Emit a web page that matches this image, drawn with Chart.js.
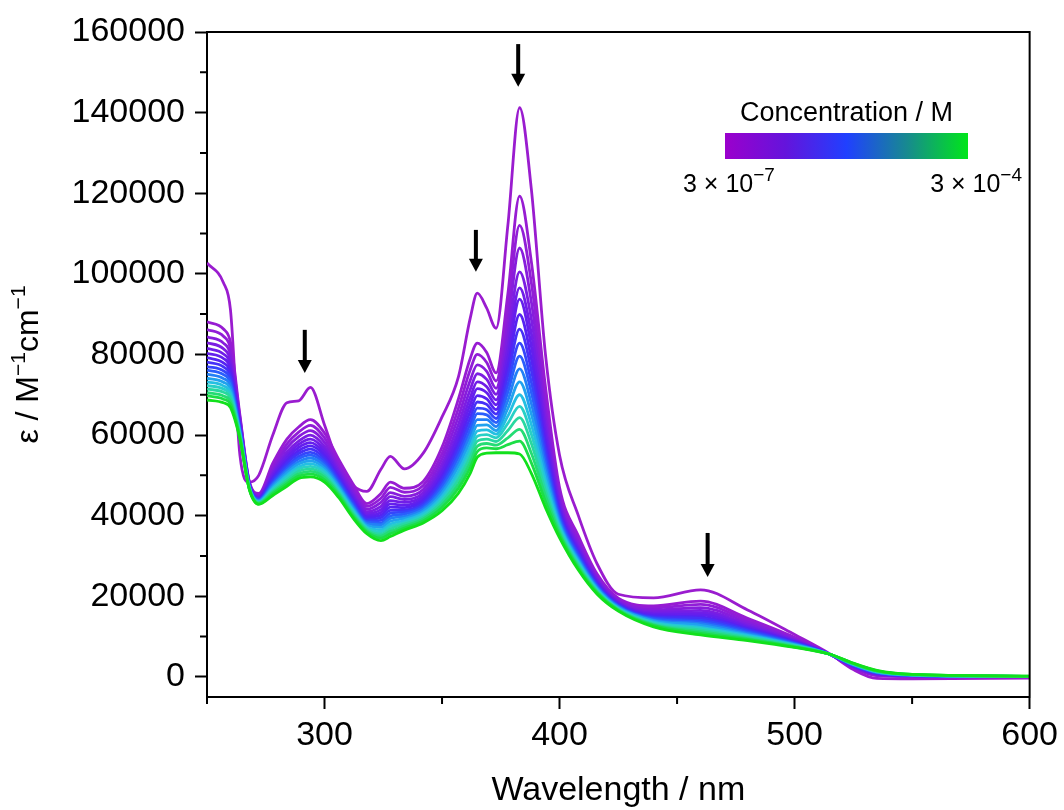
<!DOCTYPE html>
<html>
<head>
<meta charset="utf-8">
<script src="https://cdn.jsdelivr.net/npm/chart.js@4.4.1/dist/chart.umd.min.js"></script>
<style>
  html, body { margin: 0; padding: 0; background: #fff; }
  canvas { display: block; }
</style>
</head>
<body>
<canvas id="myChart" width="1064" height="810"></canvas>
<script>
// wavelength grid (nm)
const wavelengths = [250, 257, 260, 264, 268, 272, 278, 284, 289, 294, 300, 306, 312, 318, 324, 328, 334, 342, 350, 357,
  362, 365, 369, 373, 378, 383, 388, 394, 400, 408, 416, 425, 440, 460, 480, 500, 515, 525, 535, 550, 600];

// epsilon in 10^3 M^-1 cm^-1, spec01 = 3e-7 M ... spec19 = 3e-4 M
const spec01 = [102.7, 97.8, 91.0, 55.0, 48.3, 50.0, 60.0, 68.0, 68.5, 71.8, 62.5, 52.8, 47.6, 46.0, 51.5, 54.7, 51.6, 55.5, 64.5, 74.5, 89.0, 95.2, 91.5, 86.5, 112.0, 141.2, 121.0, 80.0, 55.0, 40.0, 28.0, 20.5, 19.6, 21.6, 16.6, 10.5, 5.7, 1.8, -0.4, -0.5, -0.3];
const spec02 = [88.1, 86.3, 83.0, 65.0, 48.5, 45.5, 53.0, 59.0, 62.0, 63.8, 60.5, 54.0, 48.0, 43.0, 45.5, 48.3, 46.8, 48.5, 57.0, 69.0, 79.0, 82.8, 80.5, 75.4, 95.0, 119.3, 103.0, 72.0, 47.0, 35.0, 25.5, 19.5, 17.6, 18.8, 14.5, 9.8, 5.6, 2.2, 0.3, 0.1, 0.1];
const spec03 = [86.2, 84.5, 81.4, 64.4, 48.3, 45.2, 52.2, 57.8, 60.7, 62.4, 59.3, 53.1, 47.2, 42.3, 44.3, 47.0, 45.8, 47.5, 55.4, 66.7, 76.2, 80.0, 78.0, 73.4, 91.1, 112.0, 97.8, 69.0, 45.8, 34.2, 25.0, 19.2, 17.1, 18.0, 14.0, 9.6, 5.6, 2.3, 0.4, 0.2, 0.1];
const spec04 = [84.4, 82.8, 79.9, 63.9, 48.1, 45.0, 51.5, 56.8, 59.6, 61.1, 58.2, 52.2, 46.4, 41.6, 43.3, 45.7, 44.8, 46.5, 54.0, 64.6, 73.6, 77.4, 75.8, 71.6, 87.5, 106.4, 93.0, 66.3, 44.6, 33.4, 24.6, 18.9, 16.6, 17.2, 13.5, 9.3, 5.6, 2.4, 0.6, 0.2, 0.1];
const spec05 = [82.9, 81.4, 78.6, 63.4, 48.0, 44.8, 50.8, 55.8, 58.5, 60.0, 57.2, 51.4, 45.7, 41.0, 42.3, 44.7, 44.0, 45.7, 52.7, 62.7, 71.3, 75.2, 73.8, 70.1, 84.4, 100.5, 88.8, 63.9, 43.6, 32.7, 24.2, 18.6, 16.2, 16.5, 13.0, 9.1, 5.6, 2.5, 0.7, 0.2, 0.1];
const spec06 = [81.5, 80.1, 77.5, 63.0, 47.8, 44.6, 50.3, 55.0, 57.7, 59.0, 56.4, 50.8, 45.1, 40.5, 41.5, 43.7, 43.3, 45.0, 51.6, 61.0, 69.3, 73.2, 72.0, 68.7, 81.6, 96.5, 85.2, 61.8, 42.8, 32.1, 23.8, 18.4, 15.8, 15.9, 12.6, 9.0, 5.6, 2.6, 0.7, 0.3, 0.1];
const spec07 = [80.3, 79.0, 76.5, 62.6, 47.7, 44.4, 49.8, 54.3, 56.9, 58.1, 55.6, 50.2, 44.6, 40.0, 40.8, 42.9, 42.6, 44.4, 50.7, 59.6, 67.6, 71.5, 70.5, 67.5, 79.2, 93.7, 82.0, 60.0, 42.0, 31.6, 23.5, 18.2, 15.5, 15.4, 12.3, 8.8, 5.6, 2.7, 0.8, 0.3, 0.1];
const spec08 = [79.2, 77.9, 75.6, 62.2, 47.6, 44.3, 49.3, 53.6, 56.1, 57.3, 54.9, 49.6, 44.1, 39.6, 40.1, 42.1, 42.0, 43.8, 49.7, 58.2, 65.9, 69.8, 69.0, 66.3, 76.9, 89.9, 78.9, 58.2, 41.3, 31.1, 23.2, 18.0, 15.2, 14.9, 12.0, 8.7, 5.6, 2.8, 0.9, 0.3, 0.1];
const spec09 = [78.1, 76.9, 74.7, 61.9, 47.5, 44.1, 48.9, 53.0, 55.4, 56.5, 54.2, 49.1, 43.6, 39.1, 39.5, 41.3, 41.4, 43.2, 48.9, 57.0, 64.3, 68.2, 67.6, 65.2, 74.7, 86.3, 76.0, 56.6, 40.6, 30.6, 22.9, 17.9, 14.9, 14.5, 11.7, 8.5, 5.6, 2.8, 1.0, 0.4, 0.1];
const spec10 = [77.0, 75.9, 73.8, 61.6, 47.4, 44.0, 48.4, 52.3, 54.7, 55.7, 53.5, 48.6, 43.2, 38.7, 38.8, 40.6, 40.9, 42.6, 48.0, 55.7, 62.8, 66.7, 66.3, 64.1, 72.5, 82.8, 73.1, 54.9, 39.9, 30.2, 22.7, 17.7, 14.6, 14.0, 11.4, 8.4, 5.6, 2.9, 1.0, 0.4, 0.1];
const spec11 = [76.1, 75.0, 73.0, 61.3, 47.3, 43.8, 48.0, 51.7, 54.1, 55.0, 52.9, 48.1, 42.7, 38.4, 38.2, 39.9, 40.4, 42.1, 47.2, 54.5, 61.3, 65.3, 65.0, 63.1, 70.6, 79.6, 70.5, 53.4, 39.3, 29.7, 22.4, 17.5, 14.4, 13.6, 11.1, 8.3, 5.6, 2.9, 1.1, 0.4, 0.1];
const spec12 = [75.1, 74.0, 72.2, 61.0, 47.2, 43.7, 47.6, 51.2, 53.4, 54.3, 52.3, 47.6, 42.3, 38.0, 37.7, 39.3, 39.8, 41.6, 46.4, 53.3, 59.9, 63.8, 63.8, 62.1, 68.6, 76.4, 67.8, 51.9, 38.6, 29.3, 22.2, 17.4, 14.1, 13.2, 10.8, 8.1, 5.6, 3.0, 1.2, 0.4, 0.1];
const spec13 = [74.1, 73.1, 71.3, 60.7, 47.1, 43.6, 47.2, 50.6, 52.8, 53.6, 51.7, 47.2, 41.9, 37.6, 37.1, 38.6, 39.3, 41.1, 45.6, 52.2, 58.5, 62.4, 62.5, 61.1, 66.6, 73.2, 65.2, 50.4, 38.0, 28.9, 21.9, 17.2, 13.9, 12.8, 10.5, 8.0, 5.6, 3.1, 1.2, 0.5, 0.1];
const spec14 = [73.2, 72.2, 70.5, 60.4, 47.0, 43.4, 46.8, 50.0, 52.1, 52.9, 51.1, 46.7, 41.5, 37.2, 36.5, 37.9, 38.8, 40.6, 44.8, 51.0, 57.1, 61.0, 61.3, 60.2, 64.7, 70.0, 62.6, 48.9, 37.4, 28.5, 21.7, 17.0, 13.6, 12.3, 10.3, 7.9, 5.6, 3.1, 1.3, 0.5, 0.1];
const spec15 = [72.3, 71.4, 69.8, 60.1, 46.9, 43.3, 46.5, 49.5, 51.6, 52.2, 50.6, 46.3, 41.1, 36.9, 36.0, 37.3, 38.3, 40.1, 44.1, 49.9, 55.8, 59.7, 60.1, 59.3, 62.9, 67.1, 60.2, 47.6, 36.8, 28.1, 21.4, 16.9, 13.4, 12.0, 10.0, 7.8, 5.6, 3.2, 1.4, 0.5, 0.1];
const spec16 = [71.4, 70.6, 69.1, 59.8, 46.8, 43.2, 46.1, 48.9, 51.0, 51.6, 50.0, 45.8, 40.7, 36.6, 35.4, 36.7, 37.9, 39.6, 43.4, 48.9, 54.5, 58.5, 59.0, 58.4, 61.1, 64.3, 57.9, 46.2, 36.3, 27.7, 21.2, 16.8, 13.1, 11.6, 9.8, 7.7, 5.6, 3.2, 1.4, 0.5, 0.1];
const spec17 = [70.5, 69.7, 68.3, 59.6, 46.7, 43.1, 45.8, 48.4, 50.4, 51.0, 49.5, 45.4, 40.3, 36.2, 34.9, 36.1, 37.4, 39.2, 42.7, 47.8, 53.2, 57.2, 57.9, 57.5, 59.3, 61.4, 55.5, 44.9, 35.7, 27.3, 21.0, 16.6, 12.9, 11.2, 9.5, 7.5, 5.6, 3.3, 1.5, 0.6, 0.1];
const spec18 = [69.7, 68.9, 67.6, 59.3, 46.6, 42.9, 45.4, 47.9, 49.8, 50.3, 48.9, 45.0, 39.9, 35.9, 34.4, 35.5, 36.9, 38.7, 42.0, 46.8, 51.9, 55.9, 56.8, 56.6, 57.6, 58.5, 53.1, 43.5, 35.1, 26.9, 20.8, 16.5, 12.7, 10.8, 9.3, 7.4, 5.6, 3.3, 1.5, 0.6, 0.2];
const spec19 = [68.7, 68.0, 66.8, 59.0, 46.5, 42.8, 45.0, 47.3, 49.2, 49.6, 48.3, 44.5, 39.5, 35.5, 33.8, 34.8, 36.4, 38.2, 41.2, 45.6, 50.5, 54.5, 55.5, 55.6, 55.6, 55.3, 50.5, 42.0, 34.5, 26.5, 20.5, 16.3, 12.4, 10.4, 9.0, 7.3, 5.6, 3.4, 1.6, 0.6, 0.2];

const spectra = [spec01, spec02, spec03, spec04, spec05, spec06, spec07, spec08, spec09, spec10,
  spec11, spec12, spec13, spec14, spec15, spec16, spec17, spec18, spec19];

const lineColors = ['#9a1ccf', '#971cd2', '#911dd7', '#871ddc', '#7c1ee2', '#701ee8', '#641fed', '#5622f2', '#4630f7', '#3545fb',
  '#2a5efc', '#2380f6', '#20a2ee', '#24bfe2', '#28d0c6', '#28d8a0', '#24dc74', '#1cde46', '#12e01c'];

// axis ticks
const xMajor = [300, 400, 500, 600];
const xMinor = [250, 350, 450, 550];
const yMajor = [0, 20000, 40000, 60000, 80000, 100000, 120000, 140000, 160000];
const yMinor = [10000, 30000, 50000, 70000, 90000, 110000, 130000, 150000];

// arrows: wavelength, start value, tip value
const arrowWl = [291.6, 364.4, 382.4, 463];
const arrowTop = [86100, 110900, 157000, 35700];
const arrowTip = [75400, 100500, 146400, 24800];

const FONT = "'Liberation Sans', Arial, sans-serif";

// draw text made of pieces (for superscripts)
function drawPieces(ctx, pieces, x, y, align) {
  let total = 0;
  pieces.forEach(p => { ctx.font = p.size + 'px ' + FONT; p.w = ctx.measureText(p.text).width; total += p.w; });
  let cx = align === 'center' ? x - total / 2 : (align === 'right' ? x - total : x);
  pieces.forEach(p => {
    ctx.font = p.size + 'px ' + FONT;
    ctx.fillText(p.text, cx, y + (p.dy || 0));
    cx += p.w;
  });
}

const decorations = {
  id: 'decorations',
  afterDatasetsDraw(chart) {
    const { ctx, chartArea: a, scales: { x, y } } = chart;
    ctx.save();
    ctx.strokeStyle = '#000';
    ctx.fillStyle = '#000';
    ctx.lineWidth = 2;
    // top + right frame
    ctx.beginPath();
    ctx.moveTo(a.left - 1, a.top);
    ctx.lineTo(a.right, a.top);
    ctx.lineTo(a.right, a.bottom + 1);
    ctx.stroke();
    // minor ticks
    ctx.beginPath();
    xMinor.forEach(v => { const px = x.getPixelForValue(v); ctx.moveTo(px, a.bottom); ctx.lineTo(px, a.bottom + 7); });
    yMinor.forEach(v => { const py = y.getPixelForValue(v); ctx.moveTo(a.left, py); ctx.lineTo(a.left - 7, py); });
    ctx.stroke();
    // arrows
    arrowWl.forEach((wl, i) => {
      const px = x.getPixelForValue(wl);
      const top = y.getPixelForValue(arrowTop[i]);
      const tip = y.getPixelForValue(arrowTip[i]);
      ctx.lineWidth = 4;
      ctx.beginPath();
      ctx.moveTo(px, top);
      ctx.lineTo(px, tip - 10);
      ctx.stroke();
      ctx.beginPath();
      ctx.moveTo(px - 7, tip - 13);
      ctx.lineTo(px + 7, tip - 13);
      ctx.lineTo(px, tip);
      ctx.closePath();
      ctx.fill();
    });
    ctx.restore();
  },
  afterDraw(chart) {
    const { ctx, chartArea: a } = chart;
    ctx.save();
    ctx.fillStyle = '#000';
    ctx.textBaseline = 'alphabetic';

    // x title
    ctx.font = '34px ' + FONT;
    ctx.textAlign = 'center';
    ctx.fillText('Wavelength / nm', (a.left + a.right) / 2, 800);

    // y title, rotated
    ctx.save();
    ctx.translate(38, (a.top + a.bottom) / 2);
    ctx.rotate(-Math.PI / 2);
    ctx.textAlign = 'left';
    drawPieces(ctx, [
      { text: 'ε / M', size: 32 },
      { text: '−1', size: 21, dy: -13 },
      { text: 'cm', size: 32 },
      { text: '−1', size: 21, dy: -13 }
    ], 0, 0, 'center');
    ctx.restore();

    // colour bar legend
    const bx = 725, by = 133, bw = 243, bh = 26;
    const grad = ctx.createLinearGradient(bx, 0, bx + bw, 0);
    grad.addColorStop(0, '#9b00cc');
    grad.addColorStop(0.25, '#6414dc');
    grad.addColorStop(0.5, '#2040ff');
    grad.addColorStop(0.75, '#178a8f');
    grad.addColorStop(1, '#00e61a');
    ctx.fillStyle = grad;
    ctx.fillRect(bx, by, bw, bh);

    ctx.fillStyle = '#000';
    ctx.font = '27px ' + FONT;
    ctx.textAlign = 'center';
    ctx.fillText('Concentration / M', bx + bw / 2, 121);
    ctx.textAlign = 'left';
    drawPieces(ctx, [
      { text: '3 × 10', size: 25 },
      { text: '−7', size: 19, dy: -11 }
    ], 683, 192, 'left');
    drawPieces(ctx, [
      { text: '3 × 10', size: 25 },
      { text: '−4', size: 19, dy: -11 }
    ], 1022, 192, 'right');
    ctx.restore();
  }
};

const datasets = spectra.map((s, i) => ({
  data: s.map((v, j) => ({ x: wavelengths[j], y: v * 1000 })),
  borderColor: lineColors[i],
  borderWidth: 2.8,
  pointRadius: 0,
  fill: false,
  cubicInterpolationMode: 'monotone',
  order: spectra.length - i
}));

const ctx = document.getElementById('myChart').getContext('2d');

new Chart(ctx, {
  type: 'line',
  data: { datasets: datasets },
  options: {
    responsive: false,
    animation: false,
    devicePixelRatio: 1,
    layout: { padding: { top: 32, right: 32, left: 0, bottom: 0 } },
    plugins: {
      legend: { display: false },
      tooltip: { enabled: false }
    },
    scales: {
      x: {
        type: 'linear',
        min: 250,
        max: 600,
        afterBuildTicks: (scale) => { scale.ticks = xMajor.map(v => ({ value: v })); },
        afterFit: (scale) => { scale.height = 113; },
        ticks: {
          color: '#000',
          font: { family: FONT, size: 34 },
          padding: 6,
          maxRotation: 0,
          autoSkip: false,
          callback: (v) => String(v)
        },
        grid: { display: true, drawOnChartArea: false, drawTicks: true, tickLength: 12, tickWidth: 2, tickColor: '#000' },
        border: { display: true, color: '#000', width: 2 }
      },
      y: {
        type: 'linear',
        min: -5000,
        max: 160000,
        afterBuildTicks: (scale) => { scale.ticks = yMajor.map(v => ({ value: v })); },
        afterFit: (scale) => { scale.width = 207; },
        ticks: {
          color: '#000',
          font: { family: FONT, size: 34 },
          padding: 10,
          autoSkip: false,
          callback: (v) => String(v)
        },
        grid: { display: true, drawOnChartArea: false, drawTicks: true, tickLength: 12, tickWidth: 2, tickColor: '#000' },
        border: { display: true, color: '#000', width: 2 }
      }
    }
  },
  plugins: [decorations]
});
</script>
</body>
</html>
